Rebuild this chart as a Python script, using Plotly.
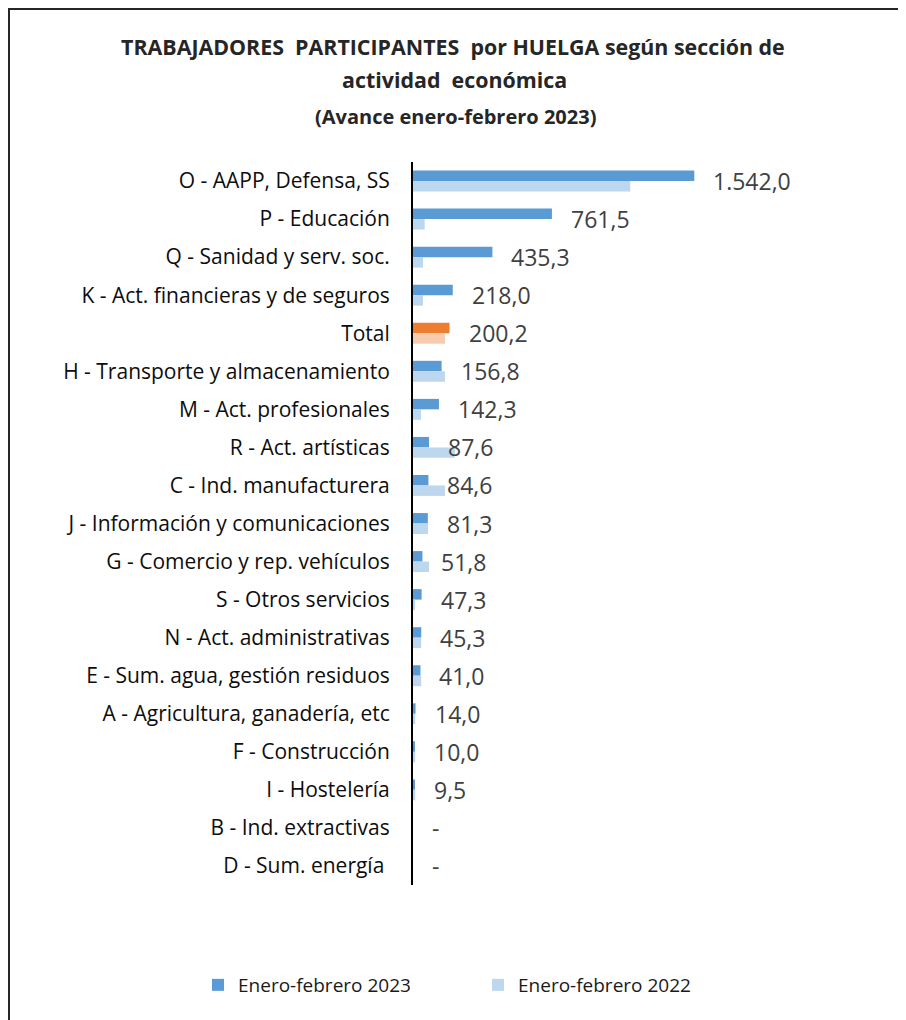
import plotly.graph_objects as go

categories = [
    "O - AAPP, Defensa, SS", "P - Educación", "Q - Sanidad y serv. soc.",
    "K - Act. financieras y de seguros", "Total", "H - Transporte y almacenamiento",
    "M - Act. profesionales", "R - Act. artísticas", "C - Ind. manufacturera",
    "J - Información y comunicaciones", "G - Comercio y rep. vehículos",
    "S - Otros servicios", "N - Act. administrativas", "E - Sum. agua, gestión residuos",
    "A - Agricultura, ganadería, etc", "F - Construcción", "I - Hostelería",
    "B - Ind. extractivas", "D - Sum. energía ",
]
values_2023 = [1542.0, 761.5, 435.3, 218.0, 200.2, 156.8, 142.3, 87.6, 84.6,
               81.3, 51.8, 47.3, 45.3, 41.0, 14.0, 10.0, 9.5, 0, 0]
values_2022 = [1191, 64, 55, 55, 175, 175, 44, 230, 175,
               82, 88, 10, 45, 45, 12, 12, 12, 0, 0]
series_names = ["Enero-febrero 2023", "Enero-febrero 2022"]

C23, C22 = "#5B9BD5", "#BDD7EE"
T23, T22 = "#ED7D31", "#F8CBAD"

col23 = [T23 if c == "Total" else C23 for c in categories]
col22 = [T22 if c == "Total" else C22 for c in categories]

def fmt(v):
    if v == 0:
        return "-"
    s = f"{v:,.1f}"
    return s.replace(",", "X").replace(".", ",").replace("X", ".")

FONT = "Open Sans, Lato, sans-serif"

fig = go.Figure()
fig.add_trace(go.Bar(y=categories, x=values_2023, orientation="h", name=series_names[0],
                     marker=dict(color=col23, line=dict(width=0)), hoverinfo="x+y"))
fig.add_trace(go.Bar(y=categories, x=values_2022, orientation="h", name=series_names[1],
                     marker=dict(color=col22, line=dict(width=0)), hoverinfo="x+y"))

OFF = 8  # page body margin
W, H = 906 - OFF, 1020 - OFF
L, T = 413 - OFF, 162 - OFF
R, B = 86, 135
pw, ph = W - L - R, H - T - B

def px_x(px):
    # page pixel -> paper x
    return (px - OFF - L) / pw

def px_y(py):
    # page pixel -> paper y
    return (H - B - (py - OFF)) / ph

annotations = []
for c, v in zip(categories, values_2023):
    annotations.append(dict(x=v, y=c, xref="x", yref="y", text=fmt(v), showarrow=False,
                            xanchor="left", yanchor="middle", xshift=17,
                            font=dict(family=FONT, size=23, color="#404040")))

annotations += [
    dict(x=px_x(453), y=px_y(47), xref="paper", yref="paper", showarrow=False,
         text="<b>TRABAJADORES  PARTICIPANTES  por HUELGA según sección de</b>",
         xanchor="center", yanchor="middle", font=dict(family=FONT, size=21.4, color="#262626")),
    dict(x=px_x(454), y=px_y(80), xref="paper", yref="paper", showarrow=False,
         text="<b>actividad  económica</b>",
         xanchor="center", yanchor="middle", font=dict(family=FONT, size=21.4, color="#262626")),
    dict(x=px_x(455), y=px_y(116), xref="paper", yref="paper", showarrow=False,
         text="<b>(Avance enero-febrero 2023)</b>",
         xanchor="center", yanchor="middle", font=dict(family=FONT, size=20, color="#262626")),
]

fig.update_layout(
    width=W, height=H,
    margin=dict(l=L, r=R, t=T, b=B, autoexpand=False),
    paper_bgcolor="white", plot_bgcolor="white",
    barmode="group", bargap=0.45, bargroupgap=0,
    showlegend=True,
    legend=dict(orientation="h", x=px_x(198), xanchor="left", y=px_y(985), yanchor="middle",
                font=dict(family=FONT, size=19, color="#1a1a1a"), entrywidth=235,
                entrywidthmode="pixels", traceorder="normal", itemclick=False),
    annotations=annotations,
    shapes=[dict(type="rect", xref="paper", yref="paper",
                 x0=px_x(9), x1=px_x(1000), y0=px_y(1100), y1=px_y(9),
                 line=dict(color="#262626", width=2), fillcolor="rgba(0,0,0,0)", layer="below")],
    font=dict(family=FONT),
)
fig.update_xaxes(range=[0, 2231], showgrid=False, zeroline=False, showticklabels=False,
                 showline=False, fixedrange=True)
fig.update_yaxes(autorange="reversed", showgrid=False, zeroline=False, showline=True,
                 linecolor="#000000", linewidth=2, ticks="", ticklabelstandoff=17,
                 tickfont=dict(family=FONT, size=21, color="#0d0d0d"), fixedrange=True)

fig.write_html("out.html")
